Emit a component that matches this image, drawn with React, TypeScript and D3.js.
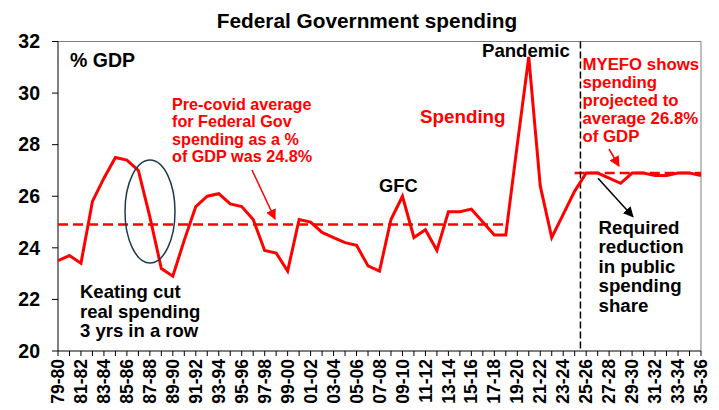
import * as d3 from "d3";

const categories = [
  "79-80", "80-81", "81-82", "82-83", "83-84", "84-85", "85-86", "86-87", "87-88", "88-89",
  "89-90", "90-91", "91-92", "92-93", "93-94", "94-95", "95-96", "96-97", "97-98", "98-99",
  "99-00", "00-01", "01-02", "02-03", "03-04", "04-05", "05-06", "06-07", "07-08", "08-09",
  "09-10", "10-11", "11-12", "12-13", "13-14", "14-15", "15-16", "16-17", "17-18", "18-19",
  "19-20", "20-21", "21-22", "22-23", "23-24", "24-25", "25-26", "26-27", "27-28", "28-29",
  "29-30", "30-31", "31-32", "32-33", "33-34", "34-35", "35-36",
];

const spending = [
  23.5, 23.7, 23.4, 25.8, 26.7, 27.5, 27.4, 27.0, 25.2, 23.2,
  22.9, 24.3, 25.6, 26.0, 26.1, 25.7, 25.6, 25.1, 23.9, 23.8,
  23.1, 25.1, 25.0, 24.6, 24.4, 24.2, 24.1, 23.3, 23.1, 25.1,
  26.0, 24.4, 24.7, 23.9, 25.4, 25.4, 25.5, 25.0, 24.5, 24.5,
  28.0, 31.4, 26.4, 24.4, 25.3, 26.2, 26.9, 26.9, 26.7, 26.5,
  26.9, 26.9, 26.8, 26.8, 26.9, 26.9, 26.8,
];

// pre-covid average runs 79-80 .. 18-19, MYEFO projection average 24-25 .. 35-36
const preCovidAvg = 24.9;
const preCovidRange = ["79-80", "18-19"];
const projectedAvg = 26.9;
const projectedRange = ["24-25", "35-36"];
const yTicks = [20, 22, 24, 26, 28, 30, 32];

const W = 719;
const H = 410;
const margin = { top: 41.5, right: 18, bottom: 59, left: 58 };
const FONT = "'Liberation Sans', Arial, sans-serif";

export default function App() {
  const x = d3
    .scalePoint<string>()
    .domain(categories)
    .range([margin.left, W - margin.right]);
  const y = d3.scaleLinear().domain([20, 32]).range([H - margin.bottom, margin.top]);

  const line = d3
    .line<number>()
    .x((_, i) => x(categories[i]) as number)
    .y((d) => y(d));

  const step = x.step();
  const splitX = (x(categories[45]) as number) + step / 2;
  const x0 = margin.left;
  const x1 = W - margin.right;
  const yb = H - margin.bottom;
  const yt = margin.top;

  const lines = (arr: string[], dy: number) =>
    arr.map((t, i) => (
      <tspan key={i} x={0} dy={i === 0 ? 0 : dy}>
        {t}
      </tspan>
    ));

  return (
    <svg
      width={W}
      height={H}
      style={{ position: "absolute", left: 0, top: 0, background: "#fff" }}
      fontFamily={FONT}
      fontWeight="bold"
    >
      <defs>
        <marker id="ar" viewBox="0 0 10 10" refX="9" refY="5" markerWidth="7" markerHeight="7" orient="auto">
          <path d="M0,0 L10,5 L0,10 z" fill="#ff0000" />
        </marker>
        <marker id="ab" viewBox="0 0 10 10" refX="9" refY="5" markerWidth="7" markerHeight="7" orient="auto">
          <path d="M0,0 L10,5 L0,10 z" fill="#000" />
        </marker>
      </defs>

      <text x={367} y={28} textAnchor="middle" fontSize={20.8}>
        Federal Government spending
      </text>

      {/* frame */}
      <line x1={x0} x2={x1} y1={yt} y2={yt} stroke="#7f7f7f" strokeWidth={1} />
      <line x1={x1} x2={x1} y1={yt} y2={yb} stroke="#7f7f7f" strokeWidth={1} />
      <line x1={x0} x2={x0} y1={yt} y2={yb} stroke="#000" strokeWidth={1} />
      <line x1={x0} x2={x1} y1={yb} y2={yb} stroke="#000" strokeWidth={1} />

      {yTicks.map((t) => (
        <g key={t}>
          <line x1={x0 - 6} x2={x0} y1={y(t)} y2={y(t)} stroke="#000" />
          <text x={40} y={y(t)} dy="0.35em" textAnchor="end" fontSize={19.5}>
            {t}
          </text>
        </g>
      ))}

      {categories.map((c, i) => (
        <g key={c}>
          <line x1={x(c)} x2={x(c)} y1={yb} y2={yb + 5} stroke="#000" />
          {i % 2 === 0 && (
            <text
              transform={`translate(${x(c)},${yb + 8}) rotate(-90)`}
              textAnchor="end"
              dy="0.35em"
              fontSize={17.5}
            >
              {c}
            </text>
          )}
        </g>
      ))}

      {/* averages */}
      <line
        x1={x(preCovidRange[0])}
        x2={x(preCovidRange[1])}
        y1={y(preCovidAvg)}
        y2={y(preCovidAvg)}
        stroke="#ff0000"
        strokeWidth={2.5}
        strokeDasharray="10,5"
      />
      <line
        x1={x(projectedRange[0])}
        x2={x(projectedRange[1])}
        y1={y(projectedAvg)}
        y2={y(projectedAvg)}
        stroke="#ff0000"
        strokeWidth={2.5}
        strokeDasharray="10,5"
      />

      <line x1={splitX} x2={splitX} y1={yt} y2={yb} stroke="#000" strokeWidth={1.5} strokeDasharray="7,3" />

      <path d={line(spending) ?? ""} fill="none" stroke="#ff0000" strokeWidth={3} strokeLinejoin="miter" />

      <ellipse cx={150} cy={211.5} rx={25} ry={51.5} fill="none" stroke="#1d3a4c" strokeWidth={1.5} />

      {/* annotations */}
      <text x={70} y={66.5} fontSize={19.5}>% GDP</text>

      <text transform="translate(172,110)" fill="#ff0000" fontSize={16.2}>
        {lines(["Pre-covid average", "for Federal Gov", "spending as a %", "of GDP was 24.8%"], 17.4)}
      </text>
      <line x1={252} y1={170} x2={275} y2={219} stroke="#ff0000" strokeWidth={1.5} markerEnd="url(#ar)" />

      <text transform="translate(80,298.3)" fontSize={18.5}>
        {lines(["Keating cut", "real spending", "3 yrs in a row"], 19.5)}
      </text>

      <text x={379} y={191.7} fontSize={18.3}>GFC</text>
      <text x={482} y={56.7} fontSize={18.6}>Pandemic</text>
      <text x={420} y={122.5} fill="#ff0000" fontSize={18.8}>Spending</text>

      <text transform="translate(582.5,70)" fill="#ff0000" fontSize={16.8}>
        {lines(["MYEFO shows", "spending", "projected to", "average 26.8%", "of GDP"], 17.9)}
      </text>
      <line x1={609} y1={149} x2={619} y2={166} stroke="#ff0000" strokeWidth={1.5} markerEnd="url(#ar)" />

      <line x1={598} y1={178.3} x2={633} y2={216.7} stroke="#000" strokeWidth={1.5} markerEnd="url(#ab)" />
      <text transform="translate(598.5,234)" fontSize={18.7}>
        {lines(["Required", "reduction", "in public", "spending", "share"], 19.4)}
      </text>
    </svg>
  );
}
